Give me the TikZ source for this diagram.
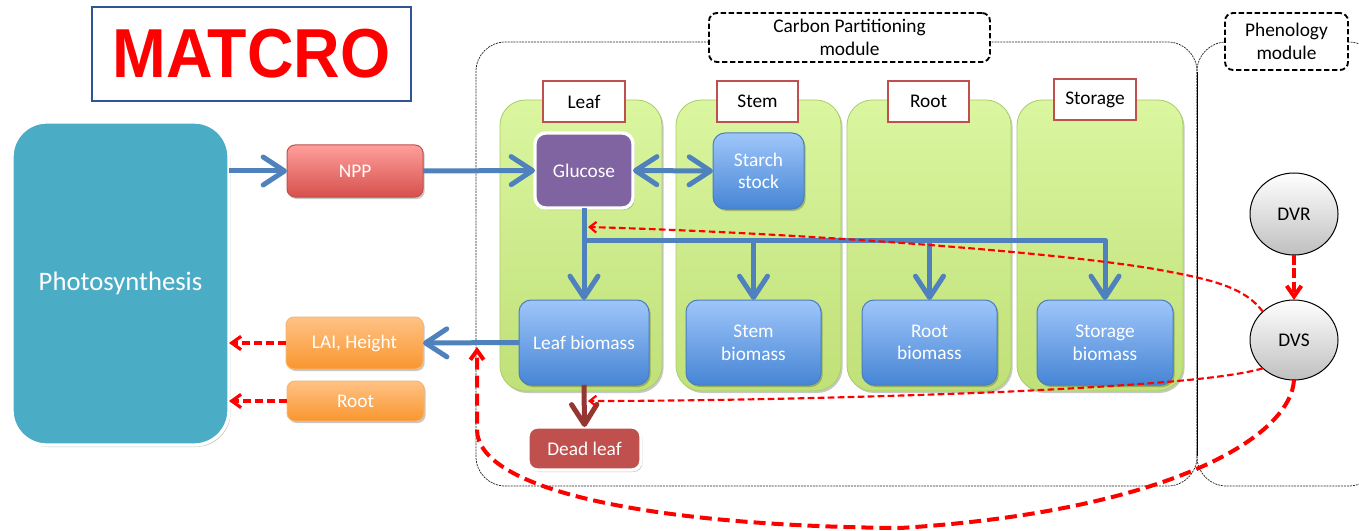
\documentclass[tikz,border=0pt]{standalone}
\usepackage{fontspec}
\setmainfont{Carlito}
\newfontfamily\titlefont{Liberation Sans}
\usetikzlibrary{arrows.meta,shapes.geometric,shadows}

\definecolor{arrowblue}{HTML}{4F81BD}
\definecolor{photofill}{HTML}{4BACC6}
\definecolor{gluc}{HTML}{8064A2}
\definecolor{deadred}{HTML}{C0504D}
\definecolor{deadarrow}{HTML}{943634}
\definecolor{labelred}{HTML}{C0504D}
\definecolor{colTop}{HTML}{DAF6A0}
\definecolor{colBot}{HTML}{C0E078}
\definecolor{colEdge}{HTML}{A9CD6A}
\definecolor{bmTop}{HTML}{9FC6FA}
\definecolor{bmBot}{HTML}{4685D5}
\definecolor{bmEdge}{HTML}{4A7EBB}
\definecolor{nppTop}{HTML}{FF9F9C}
\definecolor{nppBot}{HTML}{D6504C}
\definecolor{nppEdge}{HTML}{C0504D}
\definecolor{orTop}{HTML}{FFC286}
\definecolor{orBot}{HTML}{F9962E}
\definecolor{orEdge}{HTML}{F9B46E}
\definecolor{titleblue}{HTML}{2F5597}
\definecolor{dashred}{HTML}{FF0000}

\tikzset{
  sz/.style 2 args={minimum width=#1*0.75pt, minimum height=#2*0.75pt, inner sep=0pt, outer sep=0pt},
  lbl/.style={font=\fontsize{14.5}{17}\selectfont, align=center},
  wtxt/.style={lbl, text=white},
  softshadow/.style={drop shadow={shadow xshift=1.2pt, shadow yshift=-1.5pt, opacity=0.22, fill=black}},
  column/.style={rounded corners=19pt, top color=colTop, bottom color=colBot, draw=colEdge, line width=0.6pt, softshadow},
  partlabel/.style={lbl, fill=white, draw=labelred, line width=1.5pt},
  biomass/.style={wtxt, rounded corners=9pt, top color=bmTop, bottom color=bmBot, draw=bmEdge, line width=0.75pt, softshadow},
  orangebox/.style={wtxt, rounded corners=6pt, top color=orTop, bottom color=orBot, draw=orEdge, line width=0.75pt, softshadow},
  modlabel/.style={lbl, fill=white, draw=black, line width=1.4pt, dash pattern=on 4pt off 2pt, rounded corners=6pt},
  modline/.style={draw=black!85, line width=0.55pt, dash pattern=on 1.5pt off 0.7pt},
  blueline/.style={draw=arrowblue, line width=3.75pt, line join=round},
  bluearrow/.style={blueline, -{Straight Barb[length=16pt,width=21pt,round]}},
  bluedouble/.style={blueline, {Straight Barb[length=16pt,width=21pt,round]}-{Straight Barb[length=16pt,width=21pt,round]}},
  deadarr/.style={draw=deadarrow, line width=3.75pt, -{Straight Barb[length=15pt,width=19pt,round]}},
  reddash/.style={draw=dashred, line width=2.4pt, dash pattern=on 6pt off 3pt, -{Straight Barb[length=7pt,width=10pt]}},
  redbold/.style={draw=dashred, line width=3pt, dash pattern=on 7.5pt off 2.5pt, -{Straight Barb[length=8pt,width=11pt]}},
  redfine/.style={draw=dashred, line width=1.6pt, dash pattern=on 5pt off 2.5pt, -{Straight Barb[length=5pt,width=8pt]}},
  redthick/.style={draw=dashred, line width=3pt, dash pattern=on 9pt off 4.5pt, -{Straight Barb[length=7pt,width=10pt]}},
  phase/.style={ellipse, draw=black, line width=0.75pt, top color=white, bottom color=black!25, lbl},
}

\begin{document}
\begin{tikzpicture}[x=0.75pt,y=-0.75pt]
\useasboundingbox (0,0) rectangle (1359,531);
\clip (0,0) rectangle (1359,531);

% module outlines
\draw[modline, rounded corners=22pt] (1197,300) -- (1197,42) -- (476,42) -- (476,486) -- (1197,486) -- cycle;
\draw[modline, rounded corners=22pt] (1197,300) -- (1197,42) -- (1378,42) -- (1378,486) -- (1197,486) -- cycle;
\draw[black, line width=0.6pt] (1197,72) -- (1197,456);

\node[modlabel, sz={281}{49}] (cplabel) at (849.5,37.5) {Carbon Partitioning\\module};
\node[modlabel, sz={123}{57}] (phlabel) at (1286.5,41.5) {Phenology\\module};

% title
\node[sz={319}{94}, draw=titleblue, line width=1.1pt, fill=white, text=red] (title) at (251.5,54)
  {\titlefont\bfseries\fontsize{52}{52}\selectfont\scalebox{0.93}[1]{MATCRO}};

% organ columns
\node[column, sz={162}{291}] (leafcol) at (581,245.5) {};
\node[column, sz={165}{291}] (stemcol) at (758.5,245.5) {};
\node[column, sz={164}{291}] (rootcol) at (929,245.5) {};
\node[column, sz={166}{291}] (storcol) at (1100,245.5) {};

\node[partlabel, sz={82}{41}] (leaflbl) at (584,101.5) {Leaf};
\node[partlabel, sz={81}{41}] (stemlbl) at (757.5,101.5) {Stem};
\node[partlabel, sz={81}{41}] (rootlbl) at (928.5,101.5) {Root};
\node[partlabel, sz={82}{41}] (storlbl) at (1095,99.5) {Storage};

% photosynthesis and its inputs/outputs
\node[sz={217}{323}, fill=photofill, draw=white, line width=2.5pt, rounded corners=26pt, softshadow,
      text=white, font=\fontsize{20}{24}\selectfont] (photo) at (120.5,283.5) {Photosynthesis};
\node[wtxt, sz={136}{52}, rounded corners=6pt, top color=nppTop, bottom color=nppBot, draw=nppEdge,
      line width=0.75pt, softshadow] (npp) at (355,171) {NPP};
\node[orangebox, sz={137}{52}] (lai) at (354.5,343) {LAI, Height};
\node[orangebox, sz={137}{40}] (rootout) at (355.5,401) {Root};

% carbon pools
\node[wtxt, sz={98}{75}, fill=gluc, draw=white, line width=2.5pt, rounded corners=8pt, softshadow] (glucose) at (584,170.5) {Glucose};
\node[biomass, sz={91}{76}] (starch) at (758.5,171) {Starch\\stock};
\node[biomass, sz={130}{85}] (leafbm) at (584,342.5) {Leaf biomass};
\node[biomass, sz={135}{85}] (stembm) at (753.5,342.5) {Stem\\biomass};
\node[biomass, sz={135}{85}] (rootbm) at (929.5,342.5) {Root\\biomass};
\node[biomass, sz={136}{85}] (storbm) at (1105,342.5) {Storage\\biomass};
\node[wtxt, sz={113}{43}, fill=deadred, draw=white, line width=2.5pt, rounded corners=7pt, softshadow] (deadleaf) at (584.5,448.5) {Dead leaf};

% phenology
\node[phase, sz={88}{82}] (dvr) at (1294,214) {DVR};
\node[phase, sz={88}{80}] (dvs) at (1294,340) {DVS};

% carbon flows
\draw[bluearrow] (photo.east |- npp.west) -- (npp.west);
\draw[bluearrow] (npp.east) -- (glucose.west);
\draw[bluedouble] (glucose.east) -- (starch.west);
\coordinate (bus) at (584,240);
\draw[bluearrow] (glucose.south) -- (bus) -| (storbm.north);
\draw[bluearrow] (bus) -- (leafbm.north);
\draw[bluearrow] (bus -| stembm.north) -- (stembm.north);
\draw[bluearrow] (bus -| rootbm.north) -- (rootbm.north);
\draw[bluearrow] (leafbm.west) -- (lai.east);
\draw[deadarr] (leafbm.south) -- (deadleaf.north);

% feedback to photosynthesis
\draw[reddash] (lai.west) -- (lai.west -| photo.east);
\draw[reddash] (rootout.west) -- (rootout.west -| photo.east);

% phenology control
\coordinate (gtip) at (588,227);
\coordinate (dtip) at (588,401);
\coordinate (ltip) at (477,347);
\draw[redbold] (dvr.south) -- (dvs.north);
\draw[redfine] (dvs.north west) .. controls (1245,288) and (1215,280) .. (1160,270)
  .. controls (1060,252) and (800,233) .. (gtip);
\draw[redfine] (dvs.south west) .. controls (1230,378) and (1150,385) .. (1000,392)
  .. controls (850,398) and (700,401) .. (dtip);
\draw[redthick] (dvs.south) .. controls (1290,440) and (1160,512) .. (900,528)
  .. controls (650,526) and (478,490) .. (477,430) -- (ltip);
\end{tikzpicture}
\end{document}
